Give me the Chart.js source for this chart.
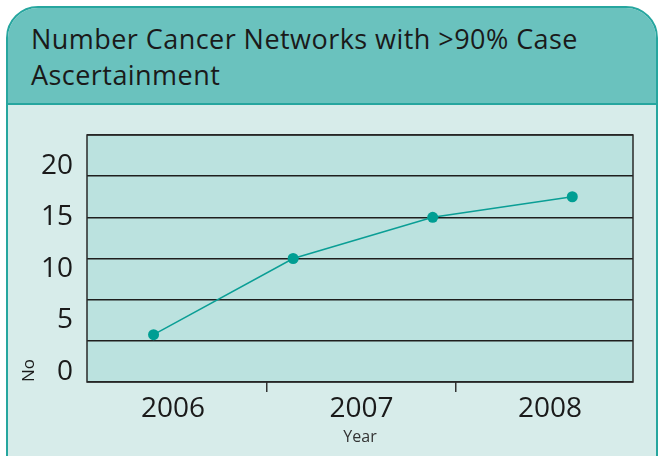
<!DOCTYPE html>
<html>
<head>
<meta charset="utf-8">
<script src="https://cdn.jsdelivr.net/npm/chart.js@4/dist/chart.umd.min.js"></script>
<style>
  html, body { margin: 0; padding: 0; background: #ffffff; width: 659px; height: 456px; overflow: hidden; }
  #panel {
    position: absolute; left: 6px; top: 6px; width: 648px; height: 460px;
    border: 2px solid #26a69f; border-radius: 32px 32px 0 0;
    background: #d7ecea; overflow: hidden;
  }
  #hdr {
    height: 97px; background: #6ac2be; border-bottom: 2px solid #26a69f;
    box-sizing: border-box; padding: 13px 0 0 23px;
    font-family: "Open Sans", sans-serif; font-size: 27px; letter-spacing: 0.45px;
    line-height: 36px; color: #1a1a1a; white-space: nowrap;
  }
  #c { position: absolute; left: 0; top: 0; }
</style>
</head>
<body>
<div id="panel"><div id="hdr">Number Cancer Networks with &gt;90% Case<br>Ascertainment</div></div>
<canvas id="c" width="659" height="456"></canvas>
<script>
// ---- data ----
const yearLabels = ['2006', '2007', '2008'];
const pointSlots = [0, 1, 2, 3];
const networksCount = [3.6, 11, 15, 17];
const yTickValues = [0, 5, 10, 15, 20];
const yAxisTitle = 'No';
const xAxisTitle = 'Year';

const FONT = '"Open Sans", sans-serif';
const firstYear = Number(yearLabels[0]);

const plotBg = {
  id: 'plotBg',
  beforeDraw(chart) {
    const a = chart.chartArea, ctx = chart.ctx;
    ctx.save();
    ctx.fillStyle = '#bbe2df';
    ctx.fillRect(a.left, a.top, a.right - a.left, a.bottom - a.top);
    ctx.restore();
  },
  beforeDatasetsDraw(chart) {
    const a = chart.chartArea, ctx = chart.ctx;
    ctx.save();
    ctx.strokeStyle = '#2a2a2a';
    ctx.lineWidth = 1.5;
    ctx.strokeRect(a.left, a.top, a.right - a.left, a.bottom - a.top);
    ctx.restore();
  }
};

new Chart(document.getElementById('c'), {
  type: 'line',
  data: {
    datasets: [{
      data: pointSlots.map((s, i) => ({ x: s, y: networksCount[i] })),
      xAxisID: 'x',
      yAxisID: 'y',
      borderColor: '#0a9e95',
      borderWidth: 1.5,
      pointRadius: 5.5,
      pointBackgroundColor: '#009e93',
      pointBorderWidth: 0,
      tension: 0
    }]
  },
  options: {
    responsive: false,
    animation: false,
    events: [],
    layout: { padding: { top: 135, right: 26, bottom: 0, left: 0 } },
    plugins: { legend: { display: false }, tooltip: { enabled: false }, title: { display: false } },
    scales: {
      x: {
        type: 'linear', display: false, min: -0.477, max: 3.435
      },
      years: {
        type: 'linear', position: 'bottom', axis: 'x',
        min: firstYear - 0.456, max: firstYear + 2.44,
        afterBuildTicks(scale) {
          const t = [];
          yearLabels.forEach((y, i) => {
            t.push({ value: Number(y) });
            if (i < yearLabels.length - 1) t.push({ value: Number(y) + 0.5 });
          });
          scale.ticks = t;
        },
        afterFit(scale) { scale.height = 74; },
        border: { display: false },
        grid: {
          drawOnChartArea: false, drawTicks: true, tickLength: 10, lineWidth: 1.5,
          color: (ctx) => (ctx.tick && Number.isInteger(ctx.tick.value)) ? 'rgba(0,0,0,0)' : '#333333'
        },
        ticks: {
          autoSkip: false, maxRotation: 0, padding: 0,
          font: { family: FONT, size: 28 }, color: '#1a1a1a',
          callback: (v) => Number.isInteger(v) ? String(v) : ''
        },
        title: {
          display: true, text: xAxisTitle, color: '#333333',
          font: { family: FONT, size: 16 }, padding: { top: 0, bottom: 9 }
        }
      },
      y: {
        type: 'linear', position: 'left', min: -1, max: 23,
        afterBuildTicks(scale) { scale.ticks = yTickValues.map(v => ({ value: v })); },
        afterFit(scale) { scale.width = 87; },
        border: { display: false },
        grid: { display: false, drawTicks: false },
        ticks: { padding: 14, font: { family: FONT, size: 28 }, color: '#1a1a1a' },
        title: {
          display: true, text: yAxisTitle, align: 'start', color: '#1a1a1a',
          font: { family: FONT, size: 17 }, padding: { top: 19, bottom: 0 }
        }
      },
      yg: {
        type: 'linear', position: 'left', min: -1, max: 23,
        afterBuildTicks(scale) {
          const t = [];
          for (let v = -1; v <= 23; v += 4) t.push({ value: v });
          scale.ticks = t;
        },
        afterFit(scale) { scale.width = 0; },
        border: { display: false },
        grid: { color: '#1e1e1e', lineWidth: 1.5, drawTicks: false },
        ticks: { display: false }
      }
    }
  },
  plugins: [plotBg]
});
</script>
</body>
</html>
